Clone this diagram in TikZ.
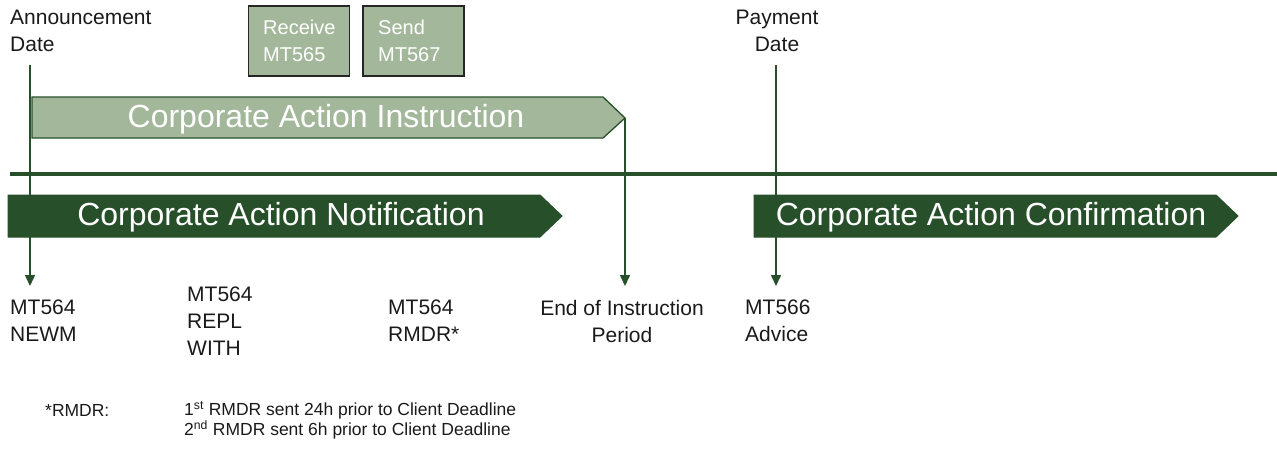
\documentclass[tikz,border=0pt]{standalone}
\usepackage{fontspec}
\setmainfont{Liberation Sans}
\usetikzlibrary{arrows.meta}
\definecolor{dkgreen}{HTML}{27502A}
\definecolor{ltgreen}{HTML}{A3B89B}
\definecolor{txt}{HTML}{1A1A1A}
\tikzset{
  lbl/.style={inner sep=0pt, text=txt, font=\fontsize{21}{27}\selectfont, align=left},
  lblc/.style={lbl, align=center},
  banner/.style={fill=dkgreen, draw=dkgreen, line width=1pt},
  lbanner/.style={fill=ltgreen, draw=dkgreen, line width=1.3pt},
  btext/.style={inner sep=0pt, text=white, font=\fontsize{32}{34}\selectfont},
  msgbox/.style={fill=ltgreen, draw=black!85, line width=1.5pt, minimum width=101pt, minimum height=70pt, inner sep=0pt},
  msgtext/.style={inner sep=0pt, text=white, font=\fontsize{20}{27}\selectfont, align=left},
  conn/.style={draw=dkgreen, line width=1.5pt},
  arr/.style={conn, -{Triangle[width=10pt,length=11pt]}},
  foot/.style={inner sep=0pt, text=txt, font=\fontsize{17.5}{20}\selectfont, align=left}
}
\begin{document}
\begin{tikzpicture}[x=1pt,y=-1pt]
\useasboundingbox (0,0) rectangle (1277,448);
% header labels
\node[lbl, anchor=west] (ann) at (10,31) {Announcement\\Date};
\node[lblc] (pay) at (777,31) {Payment\\Date};
% message boxes
\node[msgbox] (rcv) at (299,41) {};
\node[msgtext, anchor=west] (rcvt) at (263,41) {Receive\\MT565};
\node[msgbox] (snd) at (413.5,41) {};
\node[msgtext, anchor=west] (sndt) at (378,41) {Send\\MT567};
% instruction banner
\draw[lbanner] (32,97) -- (603,97) -- (625,118) -- (603,138) -- (32,138) -- cycle;
\coordinate (itip) at (625,118);
\node[btext] (instr) at (326,119) {Corporate Action Instruction};
% timeline
\coordinate (tlA) at (10,174);
\coordinate (tlB) at (1277,174);
\draw[dkgreen, line width=4pt] (tlA) -- (tlB);
% notification banner
\draw[banner] (8,195) -- (540,195) -- (562,216) -- (540,237) -- (8,237) -- cycle;
\node[btext] (notif) at (281,217) {Corporate Action Notification};
% confirmation banner
\draw[banner] (754,195) -- (1216,195) -- (1238,216) -- (1216,237) -- (754,237) -- cycle;
\node[btext] (conf) at (991,217) {Corporate Action Confirmation};
% bottom labels
\node[lbl, anchor=west] (newm) at (10,321) {MT564\\NEWM};
\node[lbl, anchor=west] (repl) at (187,321) {MT564\\REPL\\WITH};
\node[lbl, anchor=west] (rmdr) at (388,321) {MT564\\RMDR*};
\node[lblc] (eoi) at (622,321) {End of Instruction\\Period};
\node[lbl, anchor=west] (adv) at (745,321) {MT566\\Advice};
% connectors
\coordinate (annS) at (30,65);
\coordinate (annE) at (30,286);
\coordinate (payS) at (776,65);
\coordinate (payE) at (776,286);
\coordinate (eoiE) at (625,286);
\draw[arr] (annS) -- (annE);
\draw[arr] (payS) -- (payE);
\draw[arr] (itip) -- (eoiE);
% footnote
\node[foot, anchor=west] (fn) at (45,410) {*RMDR:};
\node[foot, anchor=west] (fn2) at (184,420) {1\textsuperscript{st} RMDR sent 24h prior to Client Deadline\\2\textsuperscript{nd} RMDR sent 6h prior to Client Deadline};
\end{tikzpicture}
\end{document}
